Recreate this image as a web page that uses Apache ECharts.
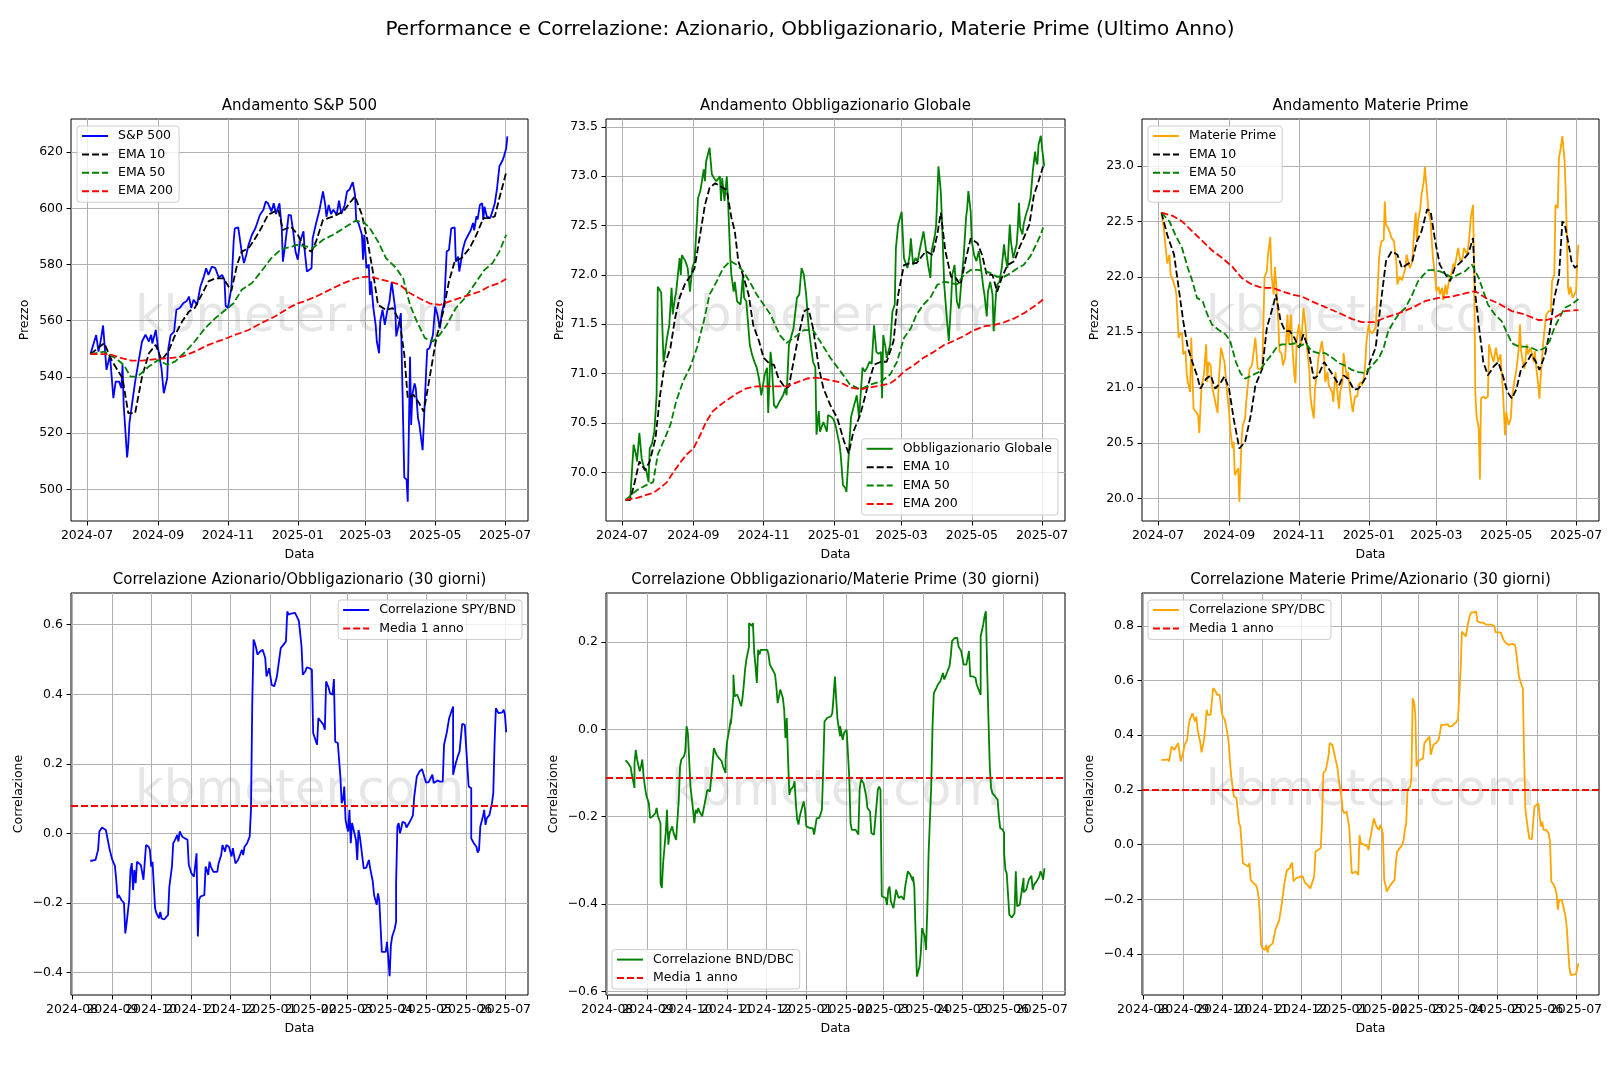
<!DOCTYPE html>
<html lang="it">
<head>
<meta charset="UTF-8">
<title>Performance e Correlazione</title>
<script src="https://cdn.jsdelivr.net/npm/echarts@6.0.0/dist/echarts.min.js"></script>
<style>
  html, body { margin: 0; padding: 0; background: #fff; }
  #chart { width: 1620px; height: 1080px; }
</style>
</head>
<body>
<div id="chart"></div>
<script>
// =========================
// Dati: [giorni dal 2024-07-01, valore]
// =========================
const BASE_DATE = Date.UTC(2024, 6, 1);
const DAY_MS = 86400000;

const spyPrice = [[3,548.1],[8,554.9],[10,549],[12,553],[14,558.3],[17,542.5],[20,547.8],[23,532.4],[25,538.3],[28,538.3],[30,536],[31,544.3],[32,530],[35,511.3],[36,515.8],[37,523.5],[42,538.3],[45,545.5],[48,552.6],[51,555],[54,552.6],[56,555],[57,551.9],[60,556.7],[62,550.2],[65,543],[67,534.2],[70,539.5],[71,550.2],[73,554.9],[76,556.1],[78,563.9],[81,564.5],[84,566.2],[87,567],[89,568.6],[91,564.5],[93,567.5],[96,565.6],[99,572.2],[102,575.7],[104,578.7],[106,576.3],[109,579.3],[112,578.7],[115,575.4],[118,576.3],[120,574.5],[121,565.4],[123,564.5],[126,571.6],[128,588.2],[129,592.9],[132,593.2],[135,584.6],[137,580.5],[139,583.4],[141,587],[144,590.6],[147,592.9],[151,597.7],[154,599.5],[156,602.4],[158,601.8],[161,598.9],[163,601.8],[165,598],[168,601.8],[170,592.9],[171,581],[173,587],[176,597.7],[178,597.5],[180,591.8],[182,584.6],[184,581.7],[186,588.2],[189,591.8],[190,585],[192,577.5],[196,578.7],[197,589.4],[200,594.7],[203,599.5],[206,606],[208,601.2],[209,597],[211,601.2],[213,598],[215,599.5],[218,597.7],[220,602.7],[222,598],[225,601.2],[227,606],[229,606.6],[232,609.3],[234,604.8],[235,595.9],[237,594.7],[240,590.6],[241,581.7],[242,590.6],[244,578.7],[246,580],[247,569.2],[248,574],[250,564.5],[252,558.5],[253,552.6],[255,548.4],[256,559.7],[258,563.9],[260,558.5],[262,563.3],[264,566.8],[266,573.7],[269,564.5],[270,554.4],[272,558.5],[274,562.7],[277,504.2],[279,503.4],[280,495.6],[282,547.2],[283,522.9],[284,533.6],[286,537.7],[287,536],[289,525.2],[290,523.5],[293,513.9],[296,541.4],[297,549.7],[299,550.2],[302,555],[304,565],[306,562],[308,557.3],[310,563.2],[312,566.8],[314,584.6],[316,585.2],[318,592.9],[321,593.2],[322,581],[324,582.8],[325,577.5],[327,582.3],[328,585.2],[330,588.2],[332,589.9],[335,592.2],[337,594.8],[338,592.2],[340,597.2],[341,596],[343,601.2],[345,601.8],[346,595.9],[347,600.6],[349,597.2],[352,596.5],[354,599],[356,601.8],[358,607.2],[360,614.9],[363,617.3],[364,618.5],[366,621.4],[367,625.6]];
const spyEma10 = [[3,548.1],[15,552],[22,545.5],[31,539.5],[36,527.1],[42,527.1],[48,540],[54,548.4],[60,551.4],[65,546],[71,549],[77,555],[83,559.7],[89,563.3],[94,564.5],[100,569.2],[106,574],[112,575.1],[119,575.1],[126,570.6],[131,579.9],[135,584.6],[141,585.8],[147,589.4],[152,592.9],[158,597.7],[167,599.5],[171,592.3],[178,593.5],[184,590.6],[190,585.8],[196,584.6],[200,588.2],[206,595.9],[215,597.1],[224,598.9],[229,601.8],[234,604.2],[240,597.7],[245,588.2],[250,576.4],[254,565.7],[261,563.9],[267,564.5],[273,559.7],[277,547.9],[280,532.4],[285,533.6],[290,530.6],[294,527.6],[299,539.5],[305,553.8],[311,563.3],[316,574],[321,581.1],[327,582.3],[334,585.8],[340,590.6],[346,596.5],[351,596.5],[356,597.1],[360,603.6],[366,612.9]];
const spyEma50 = [[3,548.1],[15,549],[25,546.6],[32,544.3],[38,540.1],[44,540.1],[54,543.7],[62,546],[70,544.3],[77,545.5],[86,549],[94,552.6],[103,557.3],[112,560.9],[121,563.9],[128,566.2],[135,571],[144,573.4],[152,577.5],[161,582.3],[170,585.6],[179,586.4],[183,587],[192,586.4],[197,585.8],[206,588.8],[215,590.6],[224,592.9],[234,595.5],[241,595.3],[247,592.9],[254,588.2],[261,582.3],[270,578.7],[276,575.1],[282,565.6],[288,559.7],[295,553.8],[302,552.6],[308,555],[314,558.5],[322,564.5],[331,568.6],[340,574],[347,578.1],[354,580.5],[360,584.6],[366,590.6]];
const spyEma200 = [[3,548.1],[19,548.1],[31,546.6],[39,545.8],[48,545.8],[60,546.3],[71,546.6],[83,547.2],[94,549],[106,551.4],[118,553.2],[129,554.9],[141,556.7],[152,559.1],[164,561.5],[176,564.5],[184,566.2],[189,566.8],[200,568.6],[212,571],[224,573.4],[235,575.1],[244,575.7],[253,575.1],[264,573.9],[273,572.8],[282,569.8],[290,568],[299,566.2],[308,565.6],[316,566.8],[325,568],[334,569.2],[343,570.4],[351,572.2],[360,573.4],[366,574.9]];

const bndPrice = [[3,69.72],[7,69.72],[10,70.28],[12,70.18],[13,70.11],[15,70.40],[17,70.14],[19,70.05],[21,70.02],[23,69.9],[24,70.24],[26,70.29],[28,70.41],[30,70.78],[31,71.88],[34,71.82],[36,71.12],[37,71.19],[39,71.36],[41,71.49],[43,71.87],[44,71.6],[46,71.77],[47,71.83],[50,72.17],[51,72.0],[52,72.2],[55,72.14],[57,72.07],[59,71.83],[61,72.07],[63,72.14],[65,72.54],[66,72.78],[68,72.85],[71,73.07],[72,72.95],[73,73.15],[76,73.29],[78,73.02],[80,72.98],[82,72.95],[85,73.0],[86,72.75],[87,72.98],[89,72.75],[91,73.0],[92,72.78],[94,72.17],[95,72.0],[97,71.83],[98,71.93],[100,71.73],[103,71.7],[105,72.0],[106,71.77],[108,71.73],[111,71.29],[113,71.19],[115,71.12],[117,71.06],[119,70.95],[121,70.78],[123,70.92],[124,70.99],[126,71.06],[127,70.6],[129,71.22],[130,71.12],[132,70.68],[134,70.65],[137,70.72],[140,70.78],[142,70.85],[143,70.78],[145,71.29],[149,71.46],[152,71.77],[154,71.8],[156,72.07],[158,72.0],[160,71.8],[162,71.49],[164,71.29],[166,71.12],[168,71.06],[169,70.38],[171,70.62],[172,70.41],[175,70.51],[178,70.41],[179,70.58],[182,70.56],[184,70.53],[186,70.45],[189,70.28],[190,70.18],[192,69.87],[194,69.84],[195,69.8],[197,70.18],[199,70.56],[201,70.65],[204,70.78],[206,70.55],[209,71.06],[211,71.02],[213,71.06],[215,71.12],[217,71.1],[219,71.49],[221,71.22],[223,71.2],[225,71.22],[226,70.75],[227,71.39],[229,71.26],[230,71.16],[233,71.29],[235,71.63],[237,71.7],[238,72.27],[240,72.51],[243,72.64],[244,72.66],[245,72.17],[248,72.07],[250,72.2],[251,72.37],[253,72.1],[255,72.17],[257,72.14],[259,72.27],[262,72.44],[264,72.27],[266,72.1],[268,71.97],[269,72.24],[272,72.41],[273,72.51],[275,73.1],[277,72.85],[278,72.58],[280,71.9],[282,71.6],[284,71.33],[286,71.73],[287,72.0],[289,72.1],[291,71.73],[293,71.66],[294,71.8],[297,72.2],[299,72.58],[300,72.68],[301,72.85],[303,72.64],[304,72.34],[306,72.2],[308,72.14],[310,72.24],[312,72.07],[314,71.87],[315,71.8],[317,71.58],[318,71.83],[320,71.93],[322,71.8],[323,71.43],[325,71.8],[326,71.9],[328,71.93],[330,72.07],[332,72.31],[333,72.2],[335,72.07],[337,72.51],[338,72.34],[340,72.17],[343,72.31],[344,72.48],[345,72.73],[346,72.48],[348,72.41],[349,72.51],[351,72.61],[353,72.68],[355,72.78],[356,72.91],[357,73.05],[359,73.25],[360,73.15],[361,73.12],[362,73.32],[364,73.41],[365,73.29],[367,73.1]];
const bndEma10 = [[3,69.72],[7,69.72],[11,69.9],[15,70.11],[20,70.02],[24,70.11],[29,70.34],[33,70.78],[37,71.09],[42,71.26],[46,71.56],[50,71.77],[55,71.92],[59,71.98],[63,72.07],[68,72.42],[72,72.71],[76,72.88],[81,72.93],[85,72.9],[91,72.86],[95,72.58],[98,72.44],[101,72.14],[105,72.0],[110,71.8],[114,71.49],[119,71.33],[123,71.16],[129,71.09],[132,71.09],[136,70.95],[142,70.85],[145,70.87],[149,71.12],[153,71.36],[158,71.63],[162,71.66],[166,71.46],[171,71.06],[175,70.85],[181,70.68],[187,70.55],[193,70.31],[197,70.19],[201,70.41],[207,70.58],[213,70.85],[219,71.09],[225,71.12],[230,71.12],[236,71.33],[240,71.8],[245,72.1],[251,72.12],[256,72.12],[264,72.24],[270,72.2],[274,72.41],[277,72.63],[281,72.24],[286,71.98],[290,71.97],[294,71.9],[299,72.17],[303,72.37],[309,72.32],[313,72.2],[317,72.0],[322,72.0],[326,71.83],[330,71.97],[335,72.1],[341,72.14],[345,72.27],[349,72.37],[354,72.51],[358,72.81],[362,72.95],[366,73.1]];
const bndEma50 = [[3,69.72],[13,69.82],[21,69.87],[27,69.9],[31,70.18],[37,70.34],[42,70.48],[47,70.72],[53,70.92],[59,71.06],[65,71.26],[71,71.53],[76,71.8],[82,71.93],[88,72.07],[94,72.14],[100,72.1],[105,72.04],[111,71.93],[117,71.8],[123,71.7],[129,71.6],[137,71.39],[143,71.31],[149,71.36],[158,71.44],[166,71.44],[172,71.33],[181,71.16],[190,71.02],[198,70.89],[207,70.84],[216,70.89],[225,70.92],[233,70.99],[239,71.12],[245,71.36],[251,71.46],[256,71.6],[262,71.7],[268,71.77],[274,71.9],[280,71.93],[286,71.92],[291,71.9],[297,72.0],[303,72.05],[309,72.05],[315,72.04],[320,72.02],[326,71.98],[332,71.98],[338,72.02],[344,72.07],[349,72.1],[355,72.19],[360,72.31],[364,72.41],[366,72.48]];
const bndEma200 = [[3,69.72],[13,69.74],[21,69.77],[27,69.79],[33,69.84],[39,69.9],[44,69.99],[50,70.09],[56,70.18],[62,70.24],[68,70.38],[73,70.51],[79,70.62],[85,70.68],[91,70.73],[100,70.8],[108,70.85],[117,70.87],[126,70.87],[134,70.87],[143,70.87],[152,70.91],[161,70.95],[169,70.96],[178,70.94],[190,70.91],[198,70.86],[207,70.84],[216,70.86],[225,70.88],[233,70.9],[239,70.95],[245,71.02],[254,71.09],[262,71.16],[271,71.22],[280,71.29],[288,71.33],[297,71.38],[306,71.44],[315,71.48],[323,71.49],[332,71.52],[341,71.56],[349,71.61],[358,71.68],[366,71.75]];

const dbcPrice = [[3,22.58],[5,22.44],[7,22.23],[8,22.12],[10,22.2],[11,22.02],[13,21.97],[15,21.9],[16,21.84],[18,21.45],[19,21.48],[21,21.49],[22,21.3],[24,21.33],[25,21.13],[26,21.05],[28,20.96],[29,21.45],[31,20.81],[33,20.78],[35,20.75],[36,20.59],[38,21.02],[40,21.11],[42,21.39],[43,21.05],[44,21.23],[46,21.2],[47,21.02],[50,20.87],[52,20.77],[53,21.05],[55,21.36],[57,21.27],[58,21.23],[60,20.99],[62,20.78],[63,20.63],[65,20.45],[66,20.51],[67,20.21],[68,20.23],[70,20.27],[71,19.97],[73,20.54],[74,20.66],[76,20.72],[77,20.87],[79,21.08],[80,21.17],[82,21.2],[83,21.19],[85,21.45],[87,21.17],[91,21.17],[93,22.0],[95,22.05],[96,22.2],[98,22.36],[99,22.02],[101,21.84],[102,22.09],[103,21.96],[105,21.6],[106,21.33],[108,21.3],[109,21.2],[111,21.27],[112,21.45],[113,21.66],[114,21.39],[116,21.66],[117,21.42],[119,21.11],[120,21.04],[121,21.42],[123,21.57],[125,21.39],[127,21.72],[129,21.54],[130,21.36],[132,21.17],[133,20.93],[134,20.84],[136,20.72],[137,20.99],[139,21.14],[140,21.27],[142,21.36],[143,21.42],[145,21.27],[146,21.05],[148,21.14],[149,21.02],[152,20.96],[153,20.87],[155,21.14],[156,21.02],[158,20.81],[159,20.96],[161,21.05],[162,21.31],[163,21.23],[165,21.08],[166,21.14],[168,20.93],[170,20.78],[172,20.92],[174,20.92],[175,21.02],[177,21.05],[178,21.02],[180,21.11],[181,21.23],[182,21.42],[184,21.57],[185,21.51],[187,21.49],[190,21.54],[191,21.72],[193,22.17],[194,22.26],[195,22.32],[197,22.33],[198,22.68],[199,22.47],[201,22.44],[204,22.35],[206,22.32],[208,22.14],[209,21.93],[211,22.0],[213,21.97],[216,22.08],[217,22.2],[219,22.11],[220,22.08],[222,22.14],[223,22.32],[225,22.58],[226,22.32],[227,22.5],[229,22.62],[230,22.74],[232,22.86],[233,22.99],[235,22.74],[236,22.61],[238,22.5],[239,22.32],[240,22.17],[242,22.0],[243,21.87],[245,21.91],[246,21.84],[248,21.9],[249,21.79],[251,21.93],[252,21.84],[254,21.96],[256,22.02],[258,22.12],[259,22.09],[262,22.26],[264,22.14],[266,22.17],[267,22.26],[270,22.2],[272,22.38],[273,22.53],[275,22.65],[276,22.08],[277,20.96],[278,20.75],[280,20.63],[281,20.17],[282,20.9],[284,20.92],[286,20.9],[288,20.92],[289,21.39],[291,21.3],[293,21.23],[295,21.36],[297,21.23],[299,21.3],[300,21.14],[301,20.99],[303,20.57],[304,20.78],[306,20.66],[308,20.72],[309,20.9],[311,21.05],[313,21.17],[315,21.36],[316,21.57],[317,21.33],[319,21.2],[320,21.17],[322,21.39],[323,21.3],[325,21.36],[326,21.33],[328,21.23],[329,21.33],[330,21.2],[332,21.02],[333,20.9],[334,21.08],[336,21.36],[337,21.48],[339,21.66],[341,21.69],[343,21.69],[344,21.96],[346,22.02],[347,22.65],[349,22.62],[350,23.07],[352,23.19],[353,23.27],[355,23.04],[356,22.74],[357,22.35],[358,21.9],[359,21.84],[360,21.91],[362,21.81],[363,21.81],[365,21.87],[366,22.14],[367,22.29]];
const dbcEma10 = [[3,22.58],[8,22.38],[14,22.2],[18,21.9],[22,21.6],[26,21.36],[30,21.23],[34,21.11],[37,20.99],[42,21.08],[46,21.11],[50,20.99],[55,21.05],[58,21.1],[62,20.99],[66,20.72],[71,20.45],[76,20.51],[81,20.75],[85,21.02],[91,21.17],[95,21.54],[100,21.72],[103,21.84],[107,21.6],[111,21.51],[115,21.51],[119,21.45],[123,21.36],[127,21.48],[131,21.36],[136,21.08],[140,21.11],[145,21.23],[149,21.17],[153,21.11],[158,21.02],[162,21.11],[166,21.08],[171,20.98],[175,20.99],[179,21.05],[182,21.1],[185,21.23],[190,21.36],[194,21.72],[199,22.14],[204,22.23],[209,22.2],[213,22.08],[217,22.11],[222,22.14],[226,22.32],[230,22.41],[235,22.61],[238,22.59],[242,22.32],[246,22.11],[251,22.02],[255,21.96],[259,22.08],[265,22.14],[271,22.21],[275,22.35],[277,21.84],[281,21.48],[284,21.23],[288,21.11],[293,21.19],[297,21.23],[301,21.11],[305,20.96],[309,20.9],[313,20.99],[317,21.17],[322,21.23],[326,21.3],[330,21.23],[333,21.16],[338,21.3],[342,21.51],[346,21.81],[350,21.99],[353,22.5],[355,22.48],[358,22.32],[361,22.14],[364,22.08],[367,22.11]];
const dbcEma50 = [[3,22.58],[10,22.5],[15,22.38],[21,22.26],[26,22.08],[30,21.96],[34,21.81],[39,21.78],[43,21.66],[47,21.57],[53,21.52],[59,21.48],[63,21.42],[68,21.23],[72,21.13],[76,21.08],[82,21.11],[88,21.14],[94,21.23],[100,21.31],[104,21.37],[108,21.39],[114,21.39],[120,21.4],[123,21.37],[129,21.4],[134,21.33],[140,21.31],[146,21.31],[152,21.27],[158,21.22],[163,21.2],[169,21.16],[175,21.14],[181,21.13],[187,21.2],[193,21.27],[197,21.36],[201,21.51],[206,21.6],[210,21.66],[216,21.72],[222,21.84],[227,21.96],[232,22.02],[236,22.06],[240,22.06],[246,22.05],[252,22.02],[257,21.99],[262,22.02],[268,22.05],[274,22.11],[277,22.05],[280,21.99],[284,21.87],[288,21.75],[294,21.66],[300,21.6],[304,21.51],[309,21.4],[315,21.37],[320,21.37],[326,21.36],[332,21.33],[338,21.36],[342,21.42],[346,21.54],[351,21.64],[355,21.72],[361,21.75],[367,21.8]];
const dbcEma200 = [[3,22.58],[13,22.55],[21,22.5],[30,22.41],[39,22.32],[47,22.24],[56,22.17],[65,22.09],[73,21.99],[82,21.93],[91,21.9],[100,21.9],[108,21.87],[117,21.84],[126,21.82],[134,21.78],[143,21.74],[152,21.7],[161,21.66],[169,21.62],[178,21.59],[189,21.59],[198,21.63],[210,21.67],[222,21.72],[233,21.78],[245,21.81],[256,21.82],[268,21.85],[277,21.87],[286,21.81],[297,21.76],[309,21.69],[320,21.66],[332,21.61],[339,21.61],[346,21.63],[355,21.69],[367,21.7]];

// correlazioni rolling 30 giorni
const corrSpyBnd = [[45,-0.079],[49,-0.076],[50,-0.074],[51,-0.047],[52,0.006],[54,0.017],[55,0.022],[57,0.01],[58,0.015],[60,-0.047],[62,-0.076],[64,-0.093],[65,-0.133],[66,-0.186],[67,-0.177],[69,-0.191],[71,-0.2],[72,-0.287],[73,-0.258],[75,-0.191],[76,-0.105],[77,-0.085],[78,-0.162],[79,-0.105],[80,-0.143],[81,-0.081],[82,-0.086],[84,-0.09],[86,-0.133],[87,-0.138],[88,-0.033],[90,-0.038],[91,-0.047],[92,-0.095],[93,-0.081],[94,-0.076],[95,-0.215],[96,-0.229],[98,-0.244],[99,-0.225],[100,-0.244],[102,-0.247],[103,-0.244],[105,-0.234],[106,-0.153],[108,-0.095],[109,-0.028],[111,-0.014],[112,-0.004],[113,-0.023],[114,0.006],[115,0.01],[116,-0.009],[118,-0.014],[120,-0.018],[121,-0.09],[123,-0.114],[125,-0.124],[126,-0.124],[127,-0.057],[128,-0.296],[129,-0.191],[130,-0.181],[131,-0.18],[133,-0.177],[134,-0.095],[135,-0.105],[136,-0.119],[137,-0.081],[138,-0.095],[140,-0.11],[141,-0.105],[143,-0.11],[144,-0.086],[146,-0.062],[147,-0.033],[149,-0.052],[150,-0.033],[152,-0.038],[154,-0.066],[155,-0.042],[157,-0.086],[159,-0.076],[161,-0.057],[162,-0.047],[163,-0.062],[164,-0.038],[166,-0.028],[168,-0.009],[169,0.068],[170,0.375],[171,0.557],[172,0.547],[173,0.533],[174,0.514],[176,0.523],[178,0.528],[179,0.533],[180,0.504],[181,0.451],[183,0.475],[184,0.471],[185,0.427],[187,0.423],[188,0.418],[189,0.451],[190,0.451],[192,0.533],[194,0.542],[196,0.552],[197,0.638],[198,0.629],[200,0.632],[203,0.634],[205,0.619],[206,0.61],[208,0.538],[209,0.456],[211,0.466],[212,0.477],[214,0.475],[216,0.471],[217,0.289],[218,0.289],[220,0.255],[221,0.332],[223,0.322],[225,0.312],[226,0.298],[227,0.437],[229,0.418],[230,0.403],[232,0.399],[233,0.444],[234,0.264],[236,0.26],[237,0.255],[238,0.164],[239,0.087],[240,0.097],[241,0.135],[242,0.039],[243,0.02],[244,0.006],[245,0.068],[246,-0.028],[247,0.03],[248,0.034],[250,-0.018],[251,-0.076],[252,0.01],[253,-0.009],[254,-0.038],[256,-0.1],[257,-0.1],[258,-0.098],[259,-0.098],[260,-0.076],[261,-0.1],[262,-0.105],[263,-0.138],[264,-0.177],[266,-0.205],[267,-0.172],[268,-0.191],[270,-0.34],[271,-0.34],[273,-0.34],[274,-0.311],[275,-0.359],[276,-0.41],[277,-0.32],[278,-0.296],[280,-0.273],[281,-0.253],[281,-0.143],[282,0.02],[283,0.03],[284,0.001],[285,0.015],[286,0.034],[288,0.03],[289,0.017],[291,0.03],[293,0.044],[294,0.053],[295,0.106],[296,0.111],[297,0.164],[299,0.178],[301,0.185],[302,0.183],[304,0.147],[306,0.147],[307,0.154],[309,0.169],[310,0.145],[311,0.147],[313,0.152],[315,0.149],[317,0.149],[318,0.255],[320,0.288],[322,0.332],[323,0.336],[325,0.365],[325,0.169],[326,0.164],[327,0.202],[329,0.226],[330,0.236],[331,0.236],[332,0.315],[334,0.312],[335,0.308],[336,0.193],[337,0.135],[339,0.13],[339,-0.014],[341,-0.028],[343,-0.038],[344,-0.055],[345,-0.047],[346,0.02],[348,0.049],[349,0.068],[350,0.025],[351,0.044],[352,0.039],[353,0.053],[355,0.087],[356,0.116],[357,0.26],[358,0.36],[360,0.346],[361,0.346],[363,0.348],[364,0.356],[365,0.341],[366,0.291]];
const corrBndDbc = [[45,-0.071],[47,-0.077],[49,-0.086],[50,-0.104],[51,-0.106],[52,-0.134],[52,-0.077],[53,-0.047],[54,-0.069],[56,-0.096],[57,-0.085],[58,-0.069],[59,-0.108],[60,-0.131],[61,-0.15],[63,-0.169],[64,-0.203],[66,-0.199],[68,-0.192],[69,-0.18],[70,-0.199],[72,-0.215],[72,-0.352],[73,-0.363],[74,-0.306],[76,-0.237],[77,-0.184],[77,-0.192],[78,-0.264],[79,-0.237],[81,-0.222],[82,-0.237],[83,-0.245],[84,-0.253],[85,-0.207],[86,-0.161],[87,-0.085],[88,-0.069],[90,-0.062],[91,-0.05],[92,0.007],[93,-0.008],[94,-0.069],[95,-0.131],[97,-0.184],[98,-0.215],[99,-0.184],[100,-0.192],[101,-0.18],[102,-0.188],[104,-0.199],[106,-0.169],[108,-0.138],[110,-0.142],[111,-0.138],[113,-0.043],[114,-0.047],[115,-0.058],[117,-0.066],[119,-0.073],[120,-0.085],[122,-0.1],[122,-0.069],[123,-0.031],[125,0.003],[126,0.022],[126,0.011],[128,0.076],[128,0.125],[129,0.076],[131,0.079],[132,0.083],[134,0.053],[135,0.072],[136,0.102],[137,0.137],[138,0.16],[140,0.19],[140,0.243],[142,0.237],[143,0.243],[144,0.175],[145,0.144],[146,0.106],[147,0.182],[148,0.171],[149,0.182],[151,0.182],[154,0.182],[155,0.171],[156,0.148],[158,0.137],[160,0.125],[161,0.098],[162,0.06],[164,0.091],[165,0.095],[166,0.072],[167,0.045],[168,-0.02],[169,0.026],[170,-0.069],[171,-0.15],[172,-0.138],[174,-0.131],[175,-0.119],[176,-0.169],[177,-0.207],[178,-0.218],[179,-0.199],[181,-0.176],[182,-0.165],[183,-0.184],[184,-0.222],[185,-0.222],[187,-0.226],[189,-0.226],[190,-0.241],[191,-0.245],[192,-0.203],[194,-0.203],[195,-0.207],[196,-0.184],[197,-0.092],[198,0.018],[199,0.015],[200,0.026],[203,0.03],[204,0.037],[205,0.076],[206,0.121],[207,0.068],[208,0.022],[210,-0.016],[210,0.007],[212,-0.024],[213,-0.008],[214,-0.005],[215,-0.001],[217,-0.108],[218,-0.215],[219,-0.23],[222,-0.23],[224,-0.241],[225,-0.138],[226,-0.115],[228,-0.123],[230,-0.153],[231,-0.18],[233,-0.188],[234,-0.237],[236,-0.241],[237,-0.241],[239,-0.138],[240,-0.131],[241,-0.138],[242,-0.382],[243,-0.386],[245,-0.386],[246,-0.402],[247,-0.367],[248,-0.36],[249,-0.394],[250,-0.398],[251,-0.409],[253,-0.367],[254,-0.363],[255,-0.386],[257,-0.382],[258,-0.381],[259,-0.39],[260,-0.36],[262,-0.325],[263,-0.325],[264,-0.333],[266,-0.348],[266,-0.337],[267,-0.36],[268,-0.467],[269,-0.566],[271,-0.543],[272,-0.512],[273,-0.455],[275,-0.474],[276,-0.505],[277,-0.413],[278,-0.283],[280,-0.131],[281,0.007],[282,0.083],[284,0.095],[285,0.102],[287,0.11],[289,0.129],[290,0.114],[291,0.121],[293,0.137],[294,0.144],[295,0.167],[296,0.202],[298,0.209],[300,0.209],[301,0.19],[302,0.194],[303,0.179],[305,0.148],[307,0.148],[308,0.148],[309,0.179],[310,0.121],[312,0.121],[314,0.118],[315,0.102],[316,0.102],[318,0.079],[318,0.213],[320,0.24],[321,0.259],[322,0.27],[323,0.137],[324,0.022],[325,-0.085],[326,-0.134],[327,-0.146],[329,-0.153],[330,-0.157],[331,-0.161],[332,-0.199],[333,-0.226],[335,-0.23],[336,-0.237],[336,-0.283],[337,-0.321],[338,-0.329],[339,-0.331],[340,-0.424],[342,-0.431],[343,-0.432],[344,-0.421],[345,-0.325],[346,-0.405],[347,-0.405],[348,-0.402],[349,-0.398],[351,-0.34],[351,-0.373],[353,-0.367],[354,-0.356],[355,-0.344],[357,-0.335],[358,-0.367],[359,-0.356],[360,-0.356],[361,-0.348],[362,-0.348],[363,-0.337],[364,-0.325],[365,-0.333],[366,-0.344],[367,-0.318]];
const corrSpyDbc = [[45,0.31],[48,0.31],[50,0.312],[51,0.304],[53,0.359],[54,0.359],[55,0.346],[58,0.371],[60,0.304],[62,0.34],[63,0.365],[65,0.383],[66,0.432],[67,0.456],[69,0.48],[71,0.45],[72,0.468],[73,0.42],[75,0.377],[76,0.337],[78,0.383],[79,0.432],[80,0.493],[81,0.474],[83,0.474],[84,0.48],[85,0.572],[87,0.56],[88,0.548],[90,0.548],[91,0.548],[92,0.474],[94,0.456],[96,0.407],[97,0.371],[98,0.304],[99,0.249],[100,0.212],[101,0.176],[103,0.17],[104,0.163],[105,0.078],[106,0.066],[107,0.06],[108,-0.068],[110,-0.074],[112,-0.08],[113,-0.068],[114,-0.129],[116,-0.141],[118,-0.148],[119,-0.16],[120,-0.19],[121,-0.251],[122,-0.367],[123,-0.379],[125,-0.385],[126,-0.367],[127,-0.395],[128,-0.373],[129,-0.367],[131,-0.361],[133,-0.312],[134,-0.3],[136,-0.276],[138,-0.215],[140,-0.141],[142,-0.093],[144,-0.087],[145,-0.074],[146,-0.066],[147,-0.135],[149,-0.123],[151,-0.12],[154,-0.115],[155,-0.111],[156,-0.141],[158,-0.148],[160,-0.16],[161,-0.166],[163,-0.117],[164,-0.026],[165,-0.02],[166,-0.02],[168,-0.013],[169,0.078],[170,0.261],[172,0.273],[173,0.298],[174,0.322],[175,0.371],[177,0.365],[179,0.322],[181,0.279],[182,0.237],[184,0.176],[185,0.127],[186,0.115],[188,0.121],[190,0.066],[191,0.06],[192,-0.105],[193,-0.099],[195,-0.099],[197,-0.111],[198,0.035],[199,0.005],[200,0.005],[202,-0.001],[204,-0.007],[205,-0.02],[206,0.017],[207,0.041],[209,0.096],[210,0.102],[211,0.066],[213,0.054],[214,0.072],[215,0.06],[216,0.041],[217,-0.129],[218,-0.148],[219,-0.172],[221,-0.154],[223,-0.141],[225,-0.129],[226,-0.068],[227,-0.026],[229,-0.013],[231,-0.001],[232,0.017],[233,0.054],[234,0.078],[235,0.2],[237,0.212],[238,0.237],[239,0.535],[240,0.523],[241,0.48],[242,0.285],[243,0.304],[245,0.31],[247,0.316],[248,0.371],[250,0.383],[252,0.395],[253,0.328],[254,0.328],[255,0.365],[257,0.371],[259,0.383],[260,0.407],[261,0.438],[262,0.444],[264,0.438],[266,0.441],[267,0.432],[268,0.438],[269,0.432],[271,0.441],[273,0.45],[274,0.462],[275,0.468],[276,0.639],[277,0.779],[278,0.773],[280,0.761],[281,0.755],[282,0.816],[283,0.834],[284,0.849],[286,0.849],[288,0.852],[289,0.816],[291,0.812],[293,0.812],[294,0.81],[296,0.804],[298,0.804],[300,0.804],[302,0.798],[303,0.776],[304,0.773],[307,0.776],[308,0.773],[309,0.749],[311,0.737],[313,0.73],[314,0.734],[316,0.734],[318,0.73],[319,0.7],[320,0.657],[321,0.615],[323,0.584],[324,0.572],[325,0.322],[326,0.127],[327,0.09],[328,0.054],[329,0.023],[331,0.02],[332,0.02],[333,0.139],[334,0.145],[336,0.151],[337,0.102],[338,0.066],[339,0.084],[340,0.054],[342,0.054],[343,0.054],[344,0.041],[345,0.011],[346,-0.135],[348,-0.148],[349,-0.16],[350,-0.178],[351,-0.239],[352,-0.202],[354,-0.202],[355,-0.221],[357,-0.263],[358,-0.306],[359,-0.385],[360,-0.452],[361,-0.477],[362,-0.477],[365,-0.474],[366,-0.471],[367,-0.434]];

// medie annuali (linee tratteggiate)
const MEAN_SPY_BND = 0.077;
const MEAN_BND_DBC = -0.113;
const MEAN_SPY_DBC = 0.200;

// tick
const topMonths = ['2024-07', '2024-09', '2024-11', '2025-01', '2025-03', '2025-05', '2025-07'];
// mesi della riga inferiore, divisi in due assi sovrapposti (etichette che si accavallano come nell'originale)
const bottomMonthsA = ['2024-08', '2024-10', '2024-12', '2025-02', '2025-04', '2025-06'];
const bottomMonthsB = ['2024-09', '2024-11', '2025-01', '2025-03', '2025-05', '2025-07'];
const spyTicks = [500, 520, 540, 560, 580, 600, 620];
const bndTicks = [70.0, 70.5, 71.0, 71.5, 72.0, 72.5, 73.0, 73.5];
const dbcTicks = [20.0, 20.5, 21.0, 21.5, 22.0, 22.5, 23.0];
const corr1Ticks = [-0.4, -0.2, 0.0, 0.2, 0.4, 0.6];
const corr2Ticks = [-0.6, -0.4, -0.2, 0.0, 0.2];
const corr3Ticks = [-0.4, -0.2, 0.0, 0.2, 0.4, 0.6, 0.8];

// =========================
// Helpers
// =========================
const FONT = 'DejaVu Sans';
const toTs = d => BASE_DATE + d * DAY_MS;
const toPoints = arr => arr.map(([d, v]) => [toTs(d), v]);
const monthTs = s => { const [y, m] = s.split('-').map(Number); return Date.UTC(y, m - 1, 1); };
const fmtMonth = v => { const d = new Date(v); return d.getUTCFullYear() + '-' + String(d.getUTCMonth() + 1).padStart(2, '0'); };
const fmtNum = dec => v => Number(v).toFixed(dec).replace('-', '\u2212');

const GRIDS = [
  { left: 71, top: 119, width: 457, height: 402 },
  { left: 606, top: 119, width: 459, height: 402 },
  { left: 1142, top: 119, width: 457, height: 402 },
  { left: 71, top: 593, width: 457, height: 402 },
  { left: 606, top: 593, width: 459, height: 402 },
  { left: 1142, top: 593, width: 457, height: 402 }
];

const TITLES = [
  'Andamento S&P 500',
  'Andamento Obbligazionario Globale',
  'Andamento Materie Prime',
  'Correlazione Azionario/Obbligazionario (30 giorni)',
  'Correlazione Obbligazionario/Materie Prime (30 giorni)',
  'Correlazione Materie Prime/Azionario (30 giorni)'
];

const axisText = { color: '#000', fontSize: 12.5, fontFamily: FONT };

// asse x numerico (timestamp) con etichette mensili
function xAxisFor(i, min, max, months, withName) {
  const vals = months.map(monthTs);
  return {
    type: 'value', gridIndex: i, position: 'bottom', offset: 0, min: toTs(min), max: toTs(max),
    name: withName ? 'Data' : '', nameLocation: 'middle', nameGap: 27, nameTextStyle: axisText,
    axisLine: { show: false, onZero: false },
    axisTick: { show: true, length: 4.5, lineStyle: { color: '#000', width: 1 }, customValues: vals },
    axisLabel: Object.assign({ customValues: vals, formatter: fmtMonth, margin: 8, showMinLabel: true, showMaxLabel: true, hideOverlap: false }, axisText),
    splitLine: { show: true, lineStyle: { color: '#b0b0b0', width: 1 } }
  };
}

function yAxisFor(i, min, max, ticks, dec, name, gap) {
  return {
    type: 'value', gridIndex: i, min: min, max: max,
    name: name, nameLocation: 'middle', nameRotate: 90, nameGap: gap, nameTextStyle: axisText,
    axisLine: { show: false, onZero: false },
    axisTick: { show: true, length: 4.5, lineStyle: { color: '#000', width: 1 }, customValues: ticks },
    axisLabel: Object.assign({ customValues: ticks, formatter: fmtNum(dec), margin: 8, showMinLabel: true, showMaxLabel: true }, axisText),
    splitLine: { show: true, lineStyle: { color: '#b0b0b0', width: 1 } }
  };
}

function line(name, data, xIdx, yIdx, color, dashed) {
  return {
    type: 'line', name: name, xAxisIndex: xIdx, yAxisIndex: yIdx,
    data: toPoints(data), showSymbol: false, symbol: 'none',
    lineStyle: { color: color, width: 1.8, type: dashed ? [7, 3] : 'solid' },
    itemStyle: { color: color },
    emphasis: { disabled: true }, animation: false
  };
}

function meanLine(value, xIdx, yIdx) {
  return {
    type: 'line', name: 'Media 1 anno', xAxisIndex: xIdx, yAxisIndex: yIdx, data: [],
    symbol: 'none', lineStyle: { color: '#ff0000', width: 1.8, type: [7, 3] }, itemStyle: { color: '#ff0000' },
    animation: false,
    markLine: {
      silent: true, symbol: ['none', 'none'], label: { show: false }, animation: false,
      lineStyle: { color: '#ff0000', width: 1.8, type: [7, 3] },
      emphasis: { disabled: true },
      data: [{ yAxis: value }]
    }
  };
}

// legenda: solo il tratto della linea, senza simbolo
function legendFor(names, pos) {
  return Object.assign({
    data: names, orient: 'vertical', align: 'left', selectedMode: false,
    itemWidth: 26, itemHeight: 14, itemGap: 5.4, padding: [3.5, 6, 4.5, 4],
    itemStyle: { opacity: 0 },
    backgroundColor: 'rgba(255,255,255,0.8)', borderColor: '#cccccc', borderWidth: 1, borderRadius: 3,
    textStyle: { color: '#000', fontSize: 12.5, fontFamily: FONT, padding: [0, 0, 0, 5] },
    z: 10
  }, pos);
}

// =========================
// Titoli e filigrana
// =========================
const graphics = [{
  type: 'text', x: 810, y: 30, z: 10,
  style: { text: 'Performance e Correlazione: Azionario, Obbligazionario, Materie Prime (Ultimo Anno)', fontSize: 20, fontFamily: FONT, fill: '#000', align: 'center', verticalAlign: 'middle', textAlign: 'center', textVerticalAlign: 'middle' }
}];
GRIDS.forEach((g, i) => {
  const cx = g.left + g.width / 2;
  graphics.push({
    type: 'text', x: cx, y: g.top - 13, z: 10,
    style: { text: TITLES[i], fontSize: 15, fontFamily: FONT, fill: '#000', align: 'center', verticalAlign: 'middle', textAlign: 'center', textVerticalAlign: 'middle' }
  });
  graphics.push({
    type: 'text', x: cx, y: g.top + g.height / 2 - 2, z: 1, silent: true,
    style: { text: 'kbmeter.com', fontSize: 50, fontFamily: FONT, fill: 'rgba(128,128,128,0.2)', align: 'center', verticalAlign: 'middle', textAlign: 'center', textVerticalAlign: 'middle' }
  });
});

// =========================
// Opzioni
// =========================
const option = {
  backgroundColor: '#ffffff',
  animation: false,
  textStyle: { fontFamily: FONT },
  grid: GRIDS.map(g => Object.assign({ show: true, borderColor: '#000', borderWidth: 1, backgroundColor: 'transparent', containLabel: false }, g)),
  xAxis: [
    xAxisFor(0, -14, 385, topMonths, true),
    xAxisFor(1, -14, 385, topMonths, true),
    xAxisFor(2, -14, 385, topMonths, true),
    xAxisFor(3, 30.1, 382.8, bottomMonthsA, true),
    xAxisFor(4, 30.1, 382.8, bottomMonthsA, true),
    xAxisFor(5, 30.1, 382.8, bottomMonthsA, true),
    xAxisFor(3, 30.1, 382.8, bottomMonthsB, false),
    xAxisFor(4, 30.1, 382.8, bottomMonthsB, false),
    xAxisFor(5, 30.1, 382.8, bottomMonthsB, false)
  ],
  yAxis: [
    yAxisFor(0, 488.7, 631.8, spyTicks, 0, 'Prezzo', 40),
    yAxisFor(1, 69.506, 73.58, bndTicks, 1, 'Prezzo', 40),
    yAxisFor(2, 19.795, 23.425, dbcTicks, 1, 'Prezzo', 41),
    yAxisFor(3, -0.464, 0.691, corr1Ticks, 1, 'Correlazione', 46),
    yAxisFor(4, -0.608, 0.312, corr2Ticks, 1, 'Correlazione', 46),
    yAxisFor(5, -0.55, 0.92, corr3Ticks, 1, 'Correlazione', 46)
  ],
  legend: [
    legendFor(['S&P 500', 'EMA 10', 'EMA 50', 'EMA 200'], { left: 77, top: 126 }),
    legendFor(['Obbligazionario Globale', 'EMA 10', 'EMA 50', 'EMA 200'], { right: 562, bottom: 565 }),
    legendFor(['Materie Prime', 'EMA 10', 'EMA 50', 'EMA 200'], { left: 1148, top: 126 }),
    legendFor(['Correlazione SPY/BND', 'Media 1 anno'], { right: 1098, top: 600 }),
    legendFor(['Correlazione BND/DBC', 'Media 1 anno'], { left: 612, bottom: 91 }),
    legendFor(['Correlazione SPY/DBC', 'Media 1 anno'], { left: 1148, top: 600 })
  ],
  graphic: graphics,
  series: [
    line('S&P 500', spyPrice, 0, 0, '#0000ff', false),
    line('EMA 10', spyEma10, 0, 0, '#000000', true),
    line('EMA 50', spyEma50, 0, 0, '#008000', true),
    line('EMA 200', spyEma200, 0, 0, '#ff0000', true),

    line('Obbligazionario Globale', bndPrice, 1, 1, '#008000', false),
    line('EMA 10', bndEma10, 1, 1, '#000000', true),
    line('EMA 50', bndEma50, 1, 1, '#008000', true),
    line('EMA 200', bndEma200, 1, 1, '#ff0000', true),

    line('Materie Prime', dbcPrice, 2, 2, '#ffa500', false),
    line('EMA 10', dbcEma10, 2, 2, '#000000', true),
    line('EMA 50', dbcEma50, 2, 2, '#008000', true),
    line('EMA 200', dbcEma200, 2, 2, '#ff0000', true),

    line('Correlazione SPY/BND', corrSpyBnd, 3, 3, '#0000ff', false),
    meanLine(MEAN_SPY_BND, 3, 3),
    line('Correlazione BND/DBC', corrBndDbc, 4, 4, '#008000', false),
    meanLine(MEAN_BND_DBC, 4, 4),
    line('Correlazione SPY/DBC', corrSpyDbc, 5, 5, '#ffa500', false),
    meanLine(MEAN_SPY_DBC, 5, 5)
  ]
};

const chart = echarts.init(document.getElementById('chart'), null, { renderer: 'canvas' });
chart.setOption(option);
</script>
</body>
</html>
